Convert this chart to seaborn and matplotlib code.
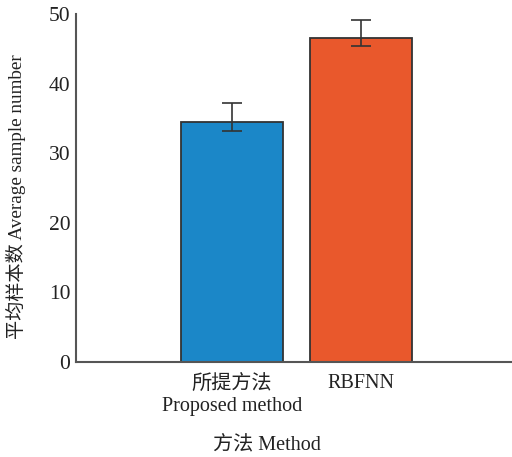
import matplotlib
matplotlib.use("Agg")
import matplotlib.pyplot as plt
import seaborn as sns
import pandas as pd
import numpy as np

# Data
methods = ["所提方法\nProposed method", "RBFNN"]
mean_samples = [34.5, 46.6]
err_low = [33.2, 45.4]
err_high = [37.2, 49.2]
bar_colors = ["#1b87c8", "#e9582c"]
y_ticks = [0, 10, 20, 30, 40, 50]

sns.set_style("white")
plt.rcParams["font.family"] = ["Liberation Serif", "Noto Sans CJK SC"]
plt.rcParams["axes.unicode_minus"] = False

df = pd.DataFrame({"method": methods, "value": mean_samples})

fig = plt.figure(figsize=(5.12, 4.57), dpi=100)
ax = fig.add_axes([0.148, 0.208, 0.87, 0.761])

sns.barplot(data=df, x="method", y="value", hue="method", palette=bar_colors,
            saturation=1, width=0.79, edgecolor="#333333", linewidth=1.3,
            errorbar=None, legend=False, ax=ax)

means = np.array(mean_samples)
yerr = np.vstack([means - np.array(err_low), np.array(err_high) - means])
ax.errorbar(np.arange(len(methods)), means, yerr=yerr, fmt="none",
            ecolor="#333333", elinewidth=1.2, capsize=7, capthick=1.2)

ax.set_xlim(-1.209, 2.244)
ax.set_ylim(0, 50)
ax.set_yticks(y_ticks)
ax.tick_params(axis="y", direction="in", length=5, width=1.2, color="#555555",
               labelsize=15.5, labelcolor="#222222", pad=4)
ax.tick_params(axis="x", length=0, labelsize=14.5, labelcolor="#222222", pad=9)
for lbl in ax.get_xticklabels():
    lbl.set_linespacing(1.25)

for side in ["top", "right"]:
    ax.spines[side].set_visible(False)
for side in ["left", "bottom"]:
    ax.spines[side].set_color("#555555")
    ax.spines[side].set_linewidth(1.5)

ax.set_ylabel("平均样本数 Average sample number", fontsize=13.8, color="#222222")
ax.yaxis.set_label_coords(-0.112, 0.474)
ax.set_xlabel("方法 Method", fontsize=14.5, color="#222222")
ax.xaxis.set_label_coords(0.43, -0.21)

fig.savefig("out.png", dpi=100)
